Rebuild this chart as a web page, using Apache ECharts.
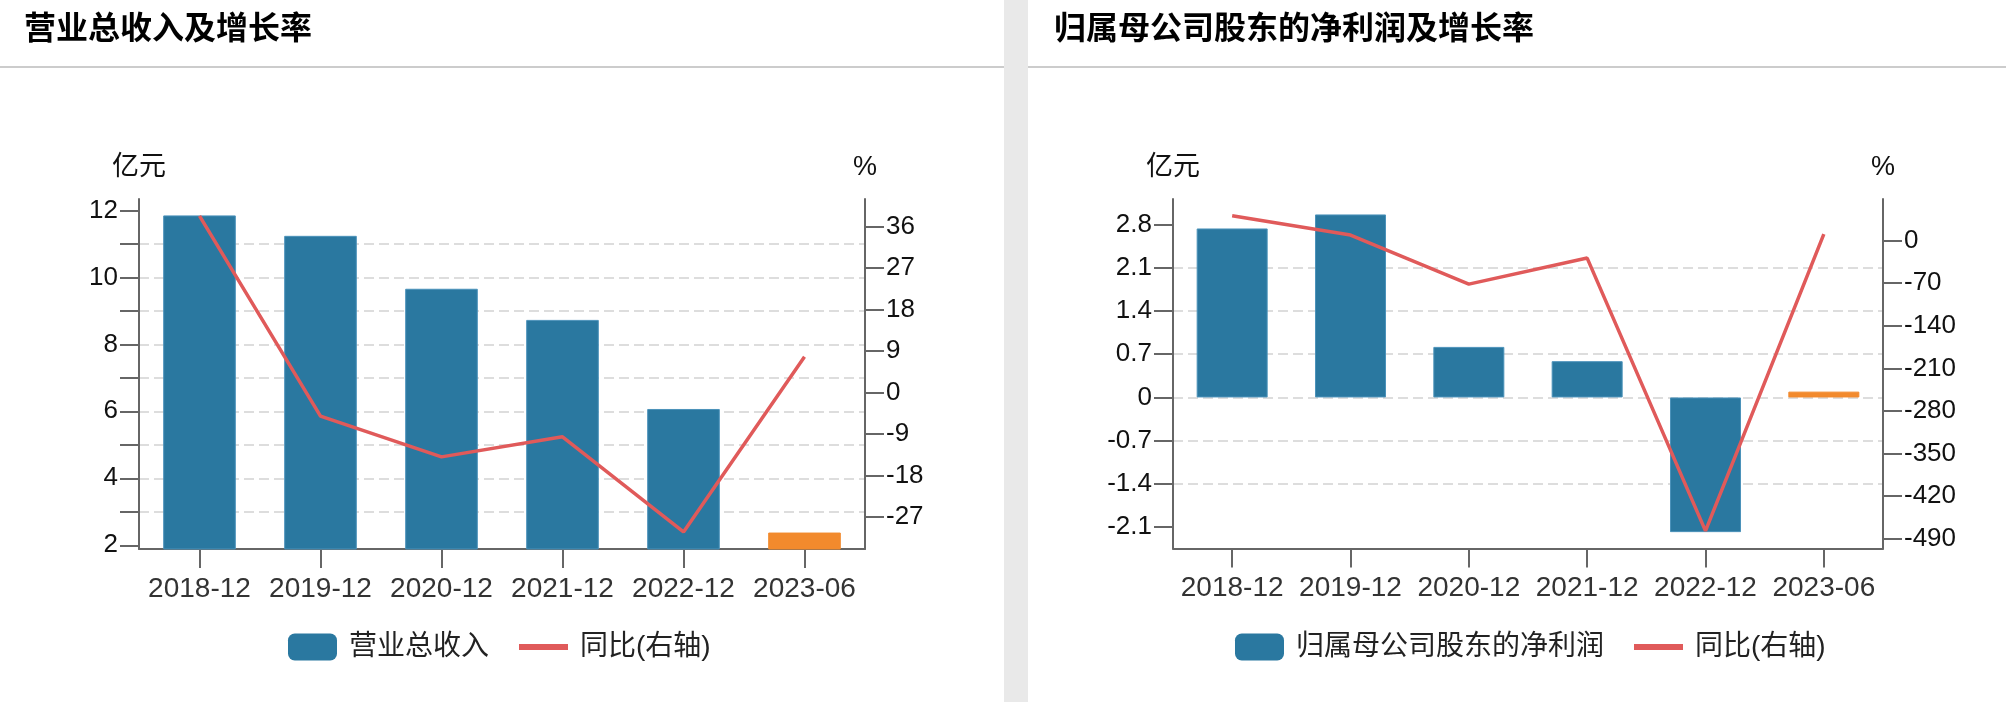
<!DOCTYPE html>
<html>
<head>
<meta charset="utf-8">
<script src="https://cdn.jsdelivr.net/npm/echarts@6/dist/echarts.min.js"></script>
<style>
html,body{margin:0;padding:0;background:#fff;}
#c{width:2006px;height:702px;}
</style>
</head>
<body>
<div id="c"></div>
<script>
// ---- data ----
const categories = ['2018-12', '2019-12', '2020-12', '2021-12', '2022-12', '2023-06'];
const revenue = [11.85, 11.24, 9.66, 8.73, 6.07, 2.38];          // 营业总收入 (亿元)
const revenueYoY = [38.3, -5.13, -13.97, -9.62, -30.26, 7.76];    // 同比 %
const netProfit = [2.735, 2.962, 0.818, 0.587, -2.18, 0.094];    // 归属母公司股东的净利润 (亿元)
const netProfitYoY = [40.6, 8.9, -71.7, -28.9, -476.8, 10.5];     // 同比 %

// tick values / labels
const revTicks = [2, 3, 4, 5, 6, 7, 8, 9, 10, 11, 12];
const revLabels = [2, 4, 6, 8, 10, 12];
const revYoYTicks = [-27, -18, -9, 0, 9, 18, 27, 36];
const npTicks = [-2.1, -1.4, -0.7, 0, 0.7, 1.4, 2.1, 2.8];
const npYoYTicks = [-490, -420, -350, -280, -210, -140, -70, 0];

// axis ranges
const revRange = [1.889, 12.34];
const revYoYRange = [-33.95, 41.95];
const npRange = [-2.445, 3.212];
const npYoYRange = [-505.8, 68.1];

// ---- style ----
const FONT = '"Liberation Sans", "Noto Sans CJK SC", sans-serif';
const BLUE = '#2a78a0';
const ORANGE = '#f28a2d';
const RED = '#e05a5a';
const AXIS = '#666';

function barData(arr) {
  return arr.map((v, i) => i === arr.length - 1
    ? { value: v, itemStyle: { color: ORANGE, borderColor: ORANGE } }
    : v);
}

function xAxis(gridIndex) {
  return {
    type: 'category', gridIndex: gridIndex, data: categories, boundaryGap: true,
    axisLine: { show: true, onZero: false, lineStyle: { color: AXIS, width: 2 } },
    axisTick: { show: true, alignWithLabel: true, interval: 0, length: 19, lineStyle: { color: AXIS, width: 2 } },
    axisLabel: { interval: 0, hideOverlap: false, fontSize: 28, color: '#333', fontFamily: FONT, margin: 26 },
    splitLine: { show: false }
  };
}

function yAxis(gridIndex, position, range, ticks, labels, split, name, iv) {
  return {
    type: 'value', gridIndex: gridIndex, position: position,
    min: range[0], max: range[1], minInterval: iv, maxInterval: iv,
    name: name, nameLocation: 'end', nameGap: 18,
    nameTextStyle: { fontSize: 27, color: '#111', fontFamily: FONT, align: 'center' },
    axisLine: { show: true, lineStyle: { color: AXIS, width: 2 } },
    axisTick: { show: true, length: 19, customValues: ticks, lineStyle: { color: AXIS, width: 2 } },
    axisLabel: { customValues: labels, fontSize: 26, color: '#111', fontFamily: FONT, margin: 21 },
    splitLine: split ? { show: true, showMinLine: false, showMaxLine: false,
      lineStyle: { color: '#dddddd', width: 2, type: [10, 5] } } : { show: false }
  };
}

function legend(left, barName) {
  return {
    left: left, top: 633, padding: 0, itemGap: 30, itemWidth: 49, itemHeight: 27,
    textStyle: { fontSize: 28, color: '#222', fontFamily: FONT, padding: [0, 0, 0, 7] },
    data: [
      { name: barName, icon: 'roundRect', itemStyle: { color: BLUE, borderWidth: 0 } },
      { name: '同比(右轴)', icon: 'path://M0,0L50,0L50,6L0,6Z', itemStyle: { color: RED, borderWidth: 0 } }
    ]
  };
}

const chart = echarts.init(document.getElementById('c'), null, { renderer: 'canvas' });
chart.setOption({
  animation: false,
  backgroundColor: '#fff',
  graphic: [
    { type: 'rect', shape: { x: 1004, y: 0, width: 24, height: 702 }, style: { fill: '#e9e9e9' }, silent: true },
    { type: 'rect', shape: { x: 0, y: 66, width: 1004, height: 2 }, style: { fill: '#cccccc' }, silent: true },
    { type: 'rect', shape: { x: 1028, y: 66, width: 978, height: 2 }, style: { fill: '#cccccc' }, silent: true }
  ],
  title: [
    { text: '营业总收入及增长率', left: 24, top: 14, padding: 0,
      textStyle: { fontSize: 32, fontWeight: 'bold', color: '#000', fontFamily: FONT, lineHeight: 32 } },
    { text: '归属母公司股东的净利润及增长率', left: 1054, top: 14, padding: 0,
      textStyle: { fontSize: 32, fontWeight: 'bold', color: '#000', fontFamily: FONT, lineHeight: 32 } }
  ],
  legend: [legend(288, '营业总收入'), legend(1235, '归属母公司股东的净利润')],
  grid: [
    { left: 139, top: 199, width: 726, height: 350, containLabel: false },
    { left: 1173, top: 199, width: 710, height: 349.5, containLabel: false }
  ],
  xAxis: [xAxis(0), xAxis(1)],
  yAxis: [
    yAxis(0, 'left', revRange, revTicks, revLabels, true, '亿元', 1),
    yAxis(0, 'right', revYoYRange, revYoYTicks, revYoYTicks, false, '%', 9),
    yAxis(1, 'left', npRange, npTicks, npTicks, true, '亿元', 0.7),
    yAxis(1, 'right', npYoYRange, npYoYTicks, npYoYTicks, false, '%', 70)
  ],
  series: [
    { type: 'bar', name: '营业总收入', xAxisIndex: 0, yAxisIndex: 0, barWidth: '60%',
      data: barData(revenue), itemStyle: { color: BLUE, borderColor: '#4b92ba', borderWidth: 1 } },
    { type: 'line', name: '同比(右轴)', xAxisIndex: 0, yAxisIndex: 1, data: revenueYoY,
      symbol: 'none', z: 5, lineStyle: { color: RED, width: 3.5 }, itemStyle: { color: RED } },
    { type: 'bar', name: '归属母公司股东的净利润', xAxisIndex: 1, yAxisIndex: 2, barWidth: '60%',
      data: barData(netProfit), itemStyle: { color: BLUE, borderColor: '#4b92ba', borderWidth: 1 } },
    { type: 'line', name: '同比(右轴)', xAxisIndex: 1, yAxisIndex: 3, data: netProfitYoY,
      symbol: 'none', z: 5, lineStyle: { color: RED, width: 3.5 }, itemStyle: { color: RED } }
  ]
});
</script>
</body>
</html>
